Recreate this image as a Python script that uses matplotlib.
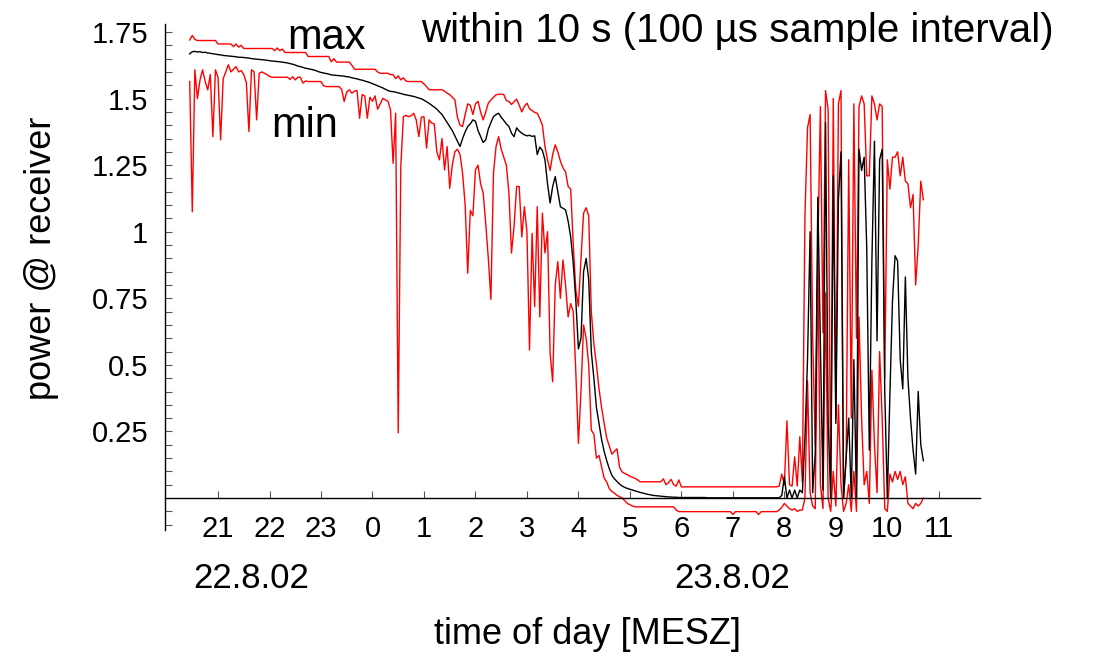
import matplotlib
matplotlib.use("Agg")
import matplotlib.pyplot as plt
import numpy as np
from matplotlib.ticker import FixedLocator

plt.rcParams['font.family'] = ['Liberation Sans', 'DejaVu Sans']

# time axis: hours since 0:00 on 22.8.02, one value every 3 minutes
hours = np.round(20.45 + 0.05 * np.arange(286), 2)

hour_ticks = list(range(21, 36))
hour_labels = [str(h % 24) for h in hour_ticks]

y_major = [0.25, 0.5, 0.75, 1.0, 1.25, 1.5, 1.75]
y_labels = ["0.25", "0.5", "0.75", "1", "1.25", "1.5", "1.75"]

p_mean = [
    1.668, 1.676, 1.677, 1.675, 1.676, 1.673, 1.674, 1.671, 1.670, 1.668, 1.667,
    1.665, 1.664, 1.662, 1.661, 1.660, 1.659, 1.658, 1.657, 1.655, 1.655,
    1.654, 1.653, 1.652, 1.650, 1.649, 1.648, 1.647, 1.646, 1.645, 1.644,
    1.642, 1.641, 1.640, 1.639, 1.638, 1.637, 1.635, 1.634, 1.631, 1.629,
    1.626, 1.622, 1.620, 1.617, 1.614, 1.612, 1.610, 1.608, 1.605, 1.601,
    1.598, 1.596, 1.594, 1.592, 1.589, 1.588, 1.587, 1.586, 1.585, 1.584,
    1.582, 1.581, 1.578, 1.576, 1.574, 1.571, 1.569, 1.566, 1.563, 1.560,
    1.556, 1.552, 1.548, 1.544, 1.540, 1.535, 1.530, 1.527, 1.526, 1.524,
    1.521, 1.519, 1.516, 1.514, 1.512, 1.510, 1.508, 1.505, 1.502, 1.499,
    1.494, 1.488, 1.482, 1.475, 1.468, 1.460, 1.450, 1.440, 1.425, 1.410,
    1.395, 1.380, 1.360, 1.340, 1.320, 1.350, 1.375, 1.395, 1.405, 1.420,
    1.415, 1.380, 1.357, 1.335, 1.345, 1.385, 1.410, 1.432, 1.440, 1.445,
    1.430, 1.418, 1.405, 1.395, 1.370, 1.357, 1.390, 1.378, 1.370, 1.364,
    1.360, 1.362, 1.358, 1.360, 1.290, 1.318, 1.305, 1.270, 1.180, 1.108,
    1.170, 1.207, 1.150, 1.094, 1.088, 1.082, 1.040, 0.980, 0.880, 0.740,
    0.560, 0.600, 0.850, 0.900, 0.820, 0.550, 0.450, 0.340, 0.280, 0.220,
    0.175, 0.140, 0.110, 0.085, 0.072, 0.062, 0.052, 0.045, 0.040, 0.036,
    0.033, 0.030, 0.027, 0.024, 0.021, 0.019, 0.016, 0.014, 0.012, 0.010,
    0.009, 0.008, 0.007, 0.006, 0.005, 0.004, 0.004, 0.003, 0.003, 0.002,
    0.002, 0.002, 0.002, 0.002, 0.002, 0.002, 0.002, 0.002, 0.002, 0.002,
    0.001, 0.001, 0.001, 0.001, 0.001, 0.001, 0.001, 0.001, 0.001, 0.001,
    0.001, 0.001, 0.001, 0.001, 0.001, 0.001, 0.001, 0.001, 0.001, 0.001,
    0.001, 0.001, 0.001, 0.001, 0.001, 0.001, 0.001, 0.001, 0.001, 0.010,
    0.080, 0.000, 0.030, 0.000, 0.030, 0.000, 0.030, 0.020, 0.23, 0.52,
    1.00, 0.02, 0.17, 1.13, 0.58, 0.03, 1.41, 0.30, 0.00, 1.21,
    0.28, 1.12, 1.30, 0.00, 0.15, 0.30, 0.00, 0.52, 0.00, 1.31,
    1.23, 1.28, 0.94, 0.18, 0.89, 1.34, 0.59, 1.27, 1.31, 0.40,
    0.00, 0.39, 0.74, 0.91, 0.89, 0.52, 0.41, 0.83, 0.45, 0.30,
    0.18, 0.09, 0.40, 0.20, 0.14,
]

p_max = [
    1.720, 1.737, 1.722, 1.718, 1.718, 1.718, 1.718, 1.718, 1.718, 1.718, 1.718,
    1.705, 1.705, 1.705, 1.705, 1.705, 1.705, 1.695, 1.705, 1.693, 1.700,
    1.688, 1.688, 1.688, 1.688, 1.688, 1.688, 1.688, 1.688, 1.688, 1.688,
    1.688, 1.688, 1.680, 1.690, 1.680, 1.686, 1.673, 1.673, 1.673, 1.673,
    1.673, 1.673, 1.673, 1.673, 1.673, 1.658, 1.658, 1.658, 1.658, 1.658,
    1.658, 1.658, 1.658, 1.658, 1.638, 1.650, 1.637, 1.637, 1.637, 1.637,
    1.637, 1.637, 1.625, 1.610, 1.610, 1.610, 1.610, 1.610, 1.610, 1.610,
    1.610, 1.610, 1.600, 1.595, 1.595, 1.595, 1.595, 1.590, 1.590, 1.575,
    1.585, 1.570, 1.578, 1.566, 1.564, 1.564, 1.564, 1.564, 1.564, 1.564,
    1.555, 1.545, 1.533, 1.533, 1.533, 1.533, 1.533, 1.533, 1.528, 1.520,
    1.515, 1.505, 1.496, 1.430, 1.400, 1.395, 1.440, 1.480, 1.475, 1.440,
    1.480, 1.490, 1.450, 1.420, 1.450, 1.483, 1.495, 1.505, 1.514, 1.516,
    1.517, 1.515, 1.492, 1.489, 1.478, 1.488, 1.498, 1.475, 1.450, 1.470,
    1.483, 1.462, 1.455, 1.448, 1.445, 1.425, 1.400, 1.320, 1.270, 1.230,
    1.290, 1.326, 1.300, 1.265, 1.240, 1.225, 1.170, 1.160, 0.950, 0.780,
    0.720, 0.900, 1.070, 1.090, 1.060, 0.700, 0.580, 0.500, 0.410, 0.340,
    0.280, 0.225, 0.195, 0.165, 0.175, 0.185, 0.115, 0.098, 0.092, 0.088,
    0.082, 0.078, 0.074, 0.068, 0.061, 0.061, 0.061, 0.061, 0.061, 0.061,
    0.061, 0.061, 0.061, 0.072, 0.050, 0.058, 0.070, 0.050, 0.045, 0.068,
    0.042, 0.042, 0.042, 0.042, 0.042, 0.042, 0.042, 0.042, 0.042, 0.042,
    0.042, 0.042, 0.042, 0.042, 0.042, 0.042, 0.042, 0.042, 0.042, 0.042,
    0.042, 0.042, 0.042, 0.042, 0.042, 0.042, 0.042, 0.042, 0.042, 0.042,
    0.042, 0.042, 0.042, 0.042, 0.042, 0.042, 0.042, 0.042, 0.045, 0.090,
    0.050, 0.290, 0.050, 0.045, 0.155, 0.045, 0.230, 0.060, 1.06, 1.39,
    1.44, 0.60, 0.20, 0.93, 1.47, 0.62, 1.53, 1.46, 0.00, 1.50,
    0.30, 1.48, 1.53, 0.00, 0.15, 1.27, 0.30, 1.48, 0.60, 1.47,
    1.51, 1.48, 1.21, 1.21, 1.51, 1.48, 1.42, 1.48, 1.47, 0.45,
    1.27, 1.16, 1.28, 1.28, 1.30, 1.21, 1.28, 1.19, 1.18, 1.09,
    1.14, 0.80, 0.95, 1.19, 1.12,
]

p_min = [
    1.564, 1.075, 1.608, 1.500, 1.570, 1.608, 1.565, 1.533, 1.590, 1.357, 1.608,
    1.580, 1.345, 1.575, 1.600, 1.627, 1.600, 1.610, 1.620, 1.600, 1.605,
    1.590, 1.560, 1.376, 1.608, 1.600, 1.420, 1.595, 1.600, 1.595, 1.590,
    1.583, 1.580, 1.580, 1.580, 1.580, 1.580, 1.580, 1.580, 1.572, 1.582,
    1.570, 1.580, 1.580, 1.558, 1.566, 1.564, 1.564, 1.564, 1.564, 1.564,
    1.564, 1.548, 1.545, 1.545, 1.545, 1.545, 1.545, 1.545, 1.535, 1.489,
    1.525, 1.533, 1.520, 1.528, 1.530, 1.426, 1.515, 1.510, 1.426, 1.505,
    1.490, 1.510, 1.460, 1.480, 1.501, 1.495, 1.490, 1.458, 1.257, 1.445,
    0.245, 1.245, 1.432, 1.437, 1.432, 1.435, 1.445, 1.420, 1.357, 1.430,
    1.432, 1.314, 1.420, 1.408, 1.405, 1.300, 1.270, 1.350, 1.232, 1.320,
    1.163, 1.250, 1.300, 1.310, 1.290, 1.220, 1.100, 0.844, 1.080, 1.060,
    1.232, 1.250, 1.180, 1.145, 1.030, 0.900, 0.746, 1.220, 1.320, 1.357,
    1.310, 1.280, 1.250, 1.145, 0.920, 1.020, 1.170, 1.170, 0.980, 1.094,
    1.000, 0.556, 0.994, 0.719, 1.094, 0.680, 1.070, 0.920, 1.000, 0.544,
    0.437, 0.800, 0.888, 0.750, 0.894, 0.800, 0.680, 0.730, 0.700, 0.470,
    0.205, 0.400, 0.650, 0.600, 0.500, 0.255, 0.240, 0.150, 0.160, 0.118,
    0.075, 0.060, 0.035, 0.025, 0.018, 0.010, 0.005, 0.000, -0.010, -0.020,
    -0.025, -0.030, -0.033, -0.033, -0.033, -0.033, -0.033, -0.033, -0.033, -0.033,
    -0.033, -0.033, -0.033, -0.033, -0.033, -0.033, -0.033, -0.033, -0.045, -0.051,
    -0.051, -0.051, -0.051, -0.051, -0.051, -0.051, -0.051, -0.051, -0.051, -0.051,
    -0.051, -0.051, -0.051, -0.051, -0.051, -0.051, -0.051, -0.051, -0.051, -0.051,
    -0.062, -0.051, -0.051, -0.051, -0.051, -0.051, -0.051, -0.051, -0.051, -0.051,
    -0.062, -0.051, -0.051, -0.051, -0.051, -0.051, -0.051, -0.051, -0.045, -0.035,
    -0.020, -0.030, -0.040, -0.045, -0.040, -0.050, -0.045, -0.045, 0.00, 0.44,
    0.02, -0.03, -0.04, 0.89, 0.05, -0.04, 0.77, 0.00, -0.05, 0.10,
    -0.03, 0.35, 0.05, -0.05, -0.02, 0.05, -0.05, 0.10, -0.05, 0.68,
    0.30, 0.05, 0.10, -0.02, 0.48, 0.20, 0.02, 0.55, 0.30, -0.04,
    -0.05, 0.09, 0.06, 0.10, 0.07, 0.10, 0.05, 0.08, -0.02, -0.03,
    -0.04, -0.02, -0.03, -0.02, 0.00,
]

W, H = 1097, 657
fig = plt.figure(figsize=(W / 100, H / 100), dpi=100)
ax = fig.add_axes([165 / W, 1 - 530 / H, (980 - 165) / W, (530 - 24) / H])

ax.plot(hours, p_min, color='#ff0000', lw=1.0)
ax.plot(hours, p_max, color='#ff0000', lw=1.0)
ax.plot(hours, p_mean, color='black', lw=1.0)

ax.set_xlim(19.97, 35.8)
ax.set_ylim(-0.12, 1.78)

for s in ['top', 'right']:
    ax.spines[s].set_visible(False)
ax.spines['bottom'].set_position(('data', 0))
ax.spines['bottom'].set_linewidth(1.0)
ax.spines['left'].set_linewidth(1.0)

ax.set_xticks(hour_ticks)
ax.set_xticklabels(hour_labels)
ax.set_yticks(y_major)
ax.set_yticklabels(y_labels)
minor = [round(v * 0.05, 2) for v in range(-2, 36) if v % 5 != 0]
ax.yaxis.set_minor_locator(FixedLocator(minor))

ax.tick_params(axis='x', direction='in', length=5, width=0.8, pad=12,
               labelsize=21, color='#555555')
ax.tick_params(axis='y', which='both', direction='in', length=5, width=0.8,
               pad=12, labelsize=21, color='#555555')

fig.text(737 / W, 1 - 42 / H, "within 10 s (100 \u00b5s sample interval)",
         fontsize=29, ha='center', va='baseline')
fig.text(287 / W, 1 - 49 / H, "max", fontsize=30, ha='left', va='baseline')
fig.text(271 / W, 1 - 137 / H, "min", fontsize=30, ha='left', va='baseline')

fig.text(251 / W, 1 - 578 / H, "22.8.02", fontsize=25, ha='center', va='center')
fig.text(732 / W, 1 - 578 / H, "23.8.02", fontsize=25, ha='center', va='center')
fig.text(587 / W, 1 - 635 / H, "time of day [MESZ]", fontsize=26,
         ha='center', va='center')
fig.text(42 / W, 1 - 258 / H, "power @ receiver", fontsize=26, rotation=90,
         ha='center', va='center')

fig.savefig("out.png", dpi=100)
